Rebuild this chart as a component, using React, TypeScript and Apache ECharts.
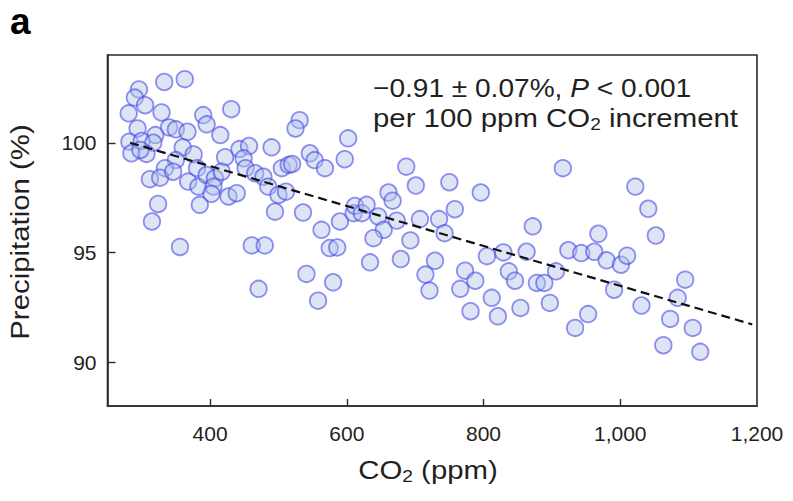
import React, { useEffect, useRef } from "react";
import * as echarts from "echarts";

// ---- data ----
const co2Ppm = [
  363, 333, 296, 290, 305, 281, 329, 390, 431, 395,
  294, 340, 350, 367, 415, 320, 282, 300, 317, 285,
  307, 298, 360, 376, 350, 334, 312, 327, 346, 381,
  368, 383, 395, 407, 405, 402, 422, 443, 457, 449,
  417, 427, 439, 385, 324, 315, 452, 466, 478, 485,
  490, 500, 495, 505, 515, 520, 511, 531, 525, 536,
  546, 553, 568, 563, 597, 602, 590, 610, 612, 622,
  629, 356, 461, 480, 471, 575, 586, 541, 580, 558,
  687, 701, 750, 796, 916, 661, 667, 646, 673, 707,
  735, 758, 743, 654, 639, 693, 634, 679, 729, 715,
  721, 773, 788, 766, 805, 829, 872, 863, 837, 846,
  812, 781, 821, 854, 878, 889, 906, 897, 924, 943,
  934, 953, 968, 962, 980, 1001, 1010, 991, 1022, 1041,
  1052, 1031, 1095, 1084, 1073, 1106, 1063, 1117,
];
const precipPct = [
  102.9, 102.77, 102.43, 102.06, 101.71, 101.34, 101.38, 101.26, 101.53, 100.84,
  100.65, 100.7, 100.61, 100.5, 100.35, 100.35, 100.05, 100.08, 100.0, 99.52,
  99.49, 99.67, 99.79, 99.47, 99.21, 98.84, 98.34, 98.41, 98.68, 98.84,
  98.23, 98.0, 98.53, 98.38, 98.0, 97.67, 99.34, 99.71, 99.85, 99.29,
  98.68, 97.55, 97.7, 97.17, 97.21, 96.41, 98.84, 98.61, 98.45, 98.0,
  99.79, 97.62, 96.86, 98.84, 98.99, 99.03, 97.77, 101.03, 100.65, 96.82,
  99.52, 99.21, 98.84, 96.03, 99.25, 100.2, 96.41, 96.79, 97.12, 96.79,
  97.17, 95.25, 95.32, 95.32, 93.34, 95.2, 95.23, 94.02, 93.64, 92.8,
  98.91, 98.05, 98.2, 97.73, 98.84, 97.73, 97.36, 96.64, 96.45, 96.52,
  96.52, 96.97, 95.88, 96.03, 95.65, 95.55, 94.55, 94.7, 94.62, 93.99,
  93.26, 94.17, 93.71, 93.34, 94.83, 95.0, 96.19, 95.03, 94.14, 93.71,
  92.93, 92.32, 92.09, 92.47, 93.61, 93.61, 94.14, 92.7, 95.1, 94.97,
  91.56, 92.19, 95.85, 95.03, 94.64, 94.44, 94.85, 93.3, 98.0, 96.99,
  95.77, 92.58, 93.76, 92.93, 91.97, 91.56, 90.77, 90.47,
];
const fitLineCo2 = [283, 1193];
const fitLinePct = [100.0, 91.72];

const xTickValues = [400, 600, 800, 1000];
const xLabelValues = [400, 600, 800, 1000, 1200];
const yTickValues = [90, 95, 100];
const yLabelValues = [90, 95, 100];

const panelLabel = "a";
const xAxisTitle = "CO{s|2} (ppm)";
const yAxisTitle = "Precipitation (%)";
const noteLine1 = "−0.91 ± 0.07%, {i|P} < 0.001";
const noteLine2 = "per 100 ppm CO{s|2} increment";

const FONT = "'Liberation Sans', Arial, Helvetica, sans-serif";
const TEXT = "#231f20";
const AXIS = "#2b2b2b";
const WIDE = 1.13; // the reference typeface is wider than Arial

export default function App() {
  const ref = useRef<HTMLDivElement>(null);

  useEffect(() => {
    if (!ref.current) return;
    const chart = echarts.init(ref.current, undefined, { renderer: "svg" });

    const points = co2Ppm.map((x, i) => [x, precipPct[i]]);
    const fit = fitLineCo2.map((x, i) => [x, fitLinePct[i]]);

    const subRich = {
      s: { fontSize: 17, fontFamily: FONT, fill: TEXT, lineHeight: 12, verticalAlign: "bottom" },
    };

    chart.setOption({
      animation: false,
      backgroundColor: "#ffffff",
      grid: {
        left: 107.5,
        right: 36,
        top: 55,
        bottom: 95,
        show: true,
        borderColor: AXIS,
        borderWidth: 1.6,
        backgroundColor: "transparent",
      },
      xAxis: {
        type: "value",
        min: 250,
        max: 1200,
        axisLine: { show: true, onZero: false, lineStyle: { color: AXIS, width: 1.6 } },
        axisTick: {
          show: true,
          inside: true,
          length: 7,
          customValues: xTickValues,
          lineStyle: { color: AXIS, width: 1.4 },
        },
        axisLabel: {
          customValues: xLabelValues,
          formatter: (v: number) => Number(v).toLocaleString("en-US"),
          fontSize: 21,
          fontFamily: FONT,
          color: TEXT,
          margin: 17,
        },
        splitLine: { show: false },
      },
      yAxis: {
        type: "value",
        min: 88,
        max: 104,
        axisLine: { show: true, onZero: false, lineStyle: { color: AXIS, width: 1.6 } },
        axisTick: {
          show: true,
          inside: true,
          length: 8,
          customValues: yTickValues,
          lineStyle: { color: AXIS, width: 1.4 },
        },
        axisLabel: {
          customValues: yLabelValues,
          fontSize: 21,
          fontFamily: FONT,
          color: TEXT,
          margin: 11,
        },
        splitLine: { show: false },
      },
      graphic: [
        {
          type: "text",
          x: 10,
          y: 21,
          style: {
            text: panelLabel,
            fontSize: 37,
            fontWeight: "bold",
            fontFamily: FONT,
            fill: "#000",
            lineHeight: 34,
            verticalAlign: "middle",
          },
        },
        {
          type: "text",
          x: 20,
          y: 232,
          rotation: Math.PI / 2,
          scaleX: WIDE,
          style: {
            text: yAxisTitle,
            fontSize: 26,
            fontFamily: FONT,
            fill: TEXT,
            align: "center",
            verticalAlign: "middle",
          },
        },
        {
          type: "text",
          x: 428,
          y: 470,
          scaleX: WIDE,
          style: {
            text: xAxisTitle,
            fontSize: 26,
            fontFamily: FONT,
            fill: TEXT,
            lineHeight: 30,
            align: "center",
            verticalAlign: "middle",
            rich: subRich,
          },
        },
        {
          type: "text",
          x: 373,
          y: 88,
          scaleX: 1.08,
          style: {
            text: noteLine1,
            fontSize: 26,
            fontFamily: FONT,
            fill: TEXT,
            lineHeight: 30,
            verticalAlign: "middle",
            rich: {
              i: { fontStyle: "italic", fontSize: 26, fontFamily: FONT, fill: TEXT, lineHeight: 30 },
            },
          },
        },
        {
          type: "text",
          x: 373,
          y: 118,
          scaleX: WIDE,
          style: {
            text: noteLine2,
            fontSize: 26,
            fontFamily: FONT,
            fill: TEXT,
            lineHeight: 30,
            verticalAlign: "middle",
            rich: subRich,
          },
        },
      ],
      series: [
        {
          type: "scatter",
          data: points,
          symbol: "circle",
          symbolSize: 16.5,
          z: 2,
          itemStyle: {
            color: "rgba(178,196,232,0.55)",
            borderColor: "rgba(64,64,230,0.72)",
            borderWidth: 1.8,
          },
        },
        {
          type: "line",
          data: fit,
          showSymbol: false,
          symbol: "none",
          z: 3,
          lineStyle: { color: "#111", width: 2.2, type: [9, 5] },
        },
      ],
    });

    return () => chart.dispose();
  }, []);

  return (
    <div
      ref={ref}
      style={{ position: "absolute", left: 0, top: 0, width: 793, height: 501, background: "#fff" }}
    />
  );
}
